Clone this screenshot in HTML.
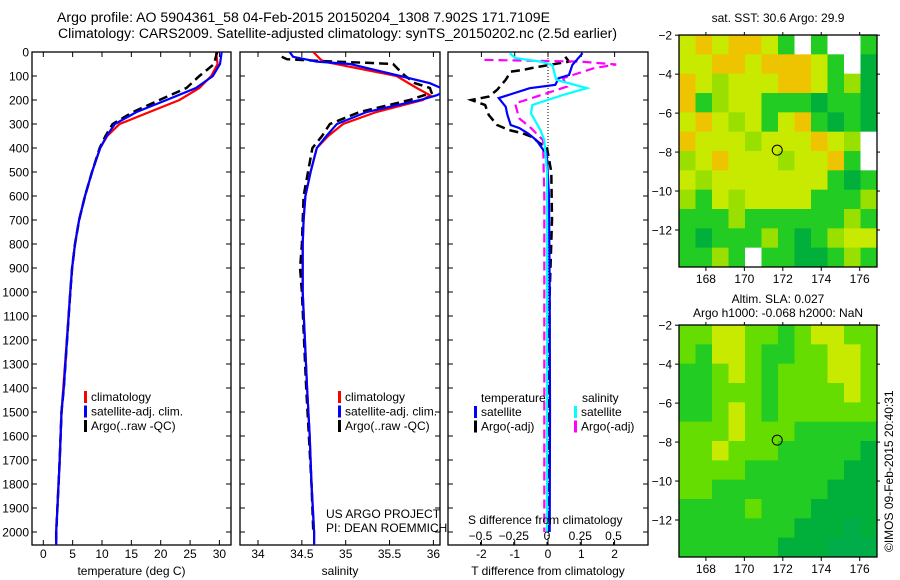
<!DOCTYPE html>
<html><head><meta charset="utf-8">
<style>
html,body{margin:0;padding:0;background:#fff;}
svg{display:block;font-family:"Liberation Sans",sans-serif;}
text{fill:#000;}
</style></head>
<body>
<svg id="fig" width="900" height="580" viewBox="0 0 900 580" xmlns="http://www.w3.org/2000/svg">
<text x="57" y="22" font-size="13.5" textLength="493" lengthAdjust="spacingAndGlyphs">Argo profile: AO 5904361_58 04-Feb-2015 20150204_1308 7.902S 171.7109E</text>
<text x="58" y="38" font-size="13.5" textLength="559" lengthAdjust="spacingAndGlyphs">Climatology: CARS2009. Satellite-adjusted climatology: synTS_20150202.nc (2.5d earlier)</text>
<g id="g1"></g>
<g id="g2"></g>
<g id="g3"></g>
<g id="m1"></g>
<g id="m2"></g>
<text x="778" y="22" font-size="12" text-anchor="middle">sat. SST: 30.6  Argo: 29.9</text>
<text x="778" y="303" font-size="12" text-anchor="middle">Altim. SLA: 0.027</text>
<text x="778" y="317" font-size="12" text-anchor="middle">Argo h1000: -0.068 h2000: NaN</text>
<text transform="translate(893,552) rotate(-90)" font-size="12">©IMOS 09-Feb-2015 20:40:31</text>
<text x="326" y="518" font-size="12">US ARGO PROJECT</text>
<text x="326" y="532" font-size="12">PI: DEAN ROEMMICH</text>
</svg>
<script>
// ---- data ----
const tempDepth=[0,50,100,150,200,250,300,350,400,500,600,700,800,900,1000,1400,1500,1700,1900,2000,2054];
const tempClim=[29.4,29.7,28.6,26.6,23.2,18.1,13,10.9,9.7,8.3,7.1,6.1,5.4,4.9,4.6,3.4,3.1,2.8,2.4,2.2,2.2];
const tempSat=[30.4,30.1,28.9,26,21,15.9,12.2,10.8,9.7,8.3,7.1,6.1,5.4,4.9,4.6,3.5,3.1,2.8,2.4,2.2,2.2];
const tempArgo=[29.6,29.1,26.6,24.4,19.8,15.3,11.8,10.6,9.6,8.3,7.1,6.1,5.4,4.9,4.6,3.5,3.1,2.8,2.4,2.2,2.2];
const salClimDepth=[0,30,40,100,150,180,200,250,300,350,400,500,600,700,800,1000,1400,1600,1800,2000,2054];
const salClim=[34.63,34.71,34.75,35.58,35.81,35.96,35.88,35.35,34.97,34.8,34.67,34.6,34.54,34.52,34.51,34.51,34.56,34.59,34.61,34.64,34.64];
const salSatDepth=[0,20,40,50,100,130,160,180,200,250,300,350,400,500,600,700,800,1000,1400,1600,1800,2000,2054];
const salSat=[34.36,34.4,34.67,35.05,35.62,35.96,36.15,36.04,35.85,35.24,34.9,34.78,34.67,34.6,34.54,34.52,34.51,34.51,34.56,34.59,34.61,34.64,34.64];
const salArgoDepth=[20,30,40,45,50,80,100,130,150,170,200,250,300,350,400,600,800,900,1000,1400,1600,1800,2000];
const salArgo=[34.27,34.33,34.86,35.24,35.54,35.62,35.68,35.79,35.96,35.98,35.73,35.16,34.82,34.73,34.62,34.52,34.5,34.48,34.5,34.55,34.58,34.61,34.63];
const dtSatDepth=[5,54,96,109,137,151,192,228,262,304,317,339,367,408,422,600,1000,1500,2000];
const dtSat=[1.04,0.73,0.63,0.32,0.22,-0.55,-1.48,-1.27,-1.22,-1.12,-0.86,-0.6,-0.35,-0.14,-0.04,0.03,0.05,0.06,0.05];
const dtArgoDepth=[20,40,61,67,75,82,116,158,186,200,221,262,304,325,339,353,380,394,500,700,1000,1500,2000];
const dtArgo=[0.52,0.63,-0.25,-0.5,-0.76,-1.12,-1.27,-1.53,-1.78,-2.3,-1.89,-1.78,-1.53,-1.17,-0.76,-0.5,-0.25,-0.04,0.1,0.12,0.05,0.02,0.0];
const dsSatDepth=[5,25,40,54,116,151,179,221,256,325,367,500,1000,2000];
const dsSat=[-0.28,-0.24,-0.05,0.04,0.07,0.3,0.12,-0.11,-0.12,-0.05,-0.02,0,0,0];
const dsArgoDepth=[33,40,52,68,109,144,186,214,276,317,367,600,1000,2000];
const dsArgo=[-0.47,0.25,0.52,0.35,0.12,0.15,-0.08,-0.24,-0.21,-0.12,-0.03,-0.02,-0.02,-0.02];
const depthTicks=[0,100,200,300,400,500,600,700,800,900,1000,1100,1200,1300,1400,1500,1600,1700,1800,1900,2000];
const tempTicks=[0,5,10,15,20,25,30];
const salTicks=[34,34.5,35,35.5,36];
const dtTicks=[-2,-1,0,1,2];
const dsTicks=[-0.5,-0.25,0,0.25,0.5];
const lonTicks=[168,170,172,174,176];
const latTicks=[-2,-4,-6,-8,-10,-12];
const argoLon=171.71, argoLat=-7.902;
const sstGrid=[
"YOYOOYGWGWWG","YYOOYOOOYGWD","OYLYYYOOYGLD","OGLYYGGGDGGD","YOYLYGYOGDGD","OYYYLYYYOYLW",
"LYOYYYLYYOGW","YLYYYYYYYGDG","LGYLYYYYGGGL","GGGLGGGGGGLG","GDGGGLGDGLYY","GGLGWGGDDGLG"];
const slaGrid=[
"AAYYAAGAYYAA","AGYYAGGAAYYA","GGAYAGAAAYYA","GGAAAGAAAAYA","GGAYAGAAAAAA","AAAYAAAGGGGG",
"AAYAAAGGGGGD","AAAAGGGGGGDD","AAGGGGGGGDDD","GGGGAGGGDDDD","GGGGGGGDDDTD","GGGGGGDDDTTT"];
// ---- scales ----
const NS="http://www.w3.org/2000/svg";
const Y0=52,Y1=545;
const yD=d=>Y0+d*0.24;
const xT=v=>43.3+v*5.87;
const xS=v=>258+(v-34)*87.7;
const xDT=v=>548+v*33.3;
const xDS=v=>547+v*133;
function mk(tag,attrs,parent){const e=document.createElementNS(NS,tag);for(const k in attrs)e.setAttribute(k,attrs[k]);parent.appendChild(e);return e;}
function line(g,xs,ds,fx,color,w,dash,name){
  const pts=xs.map((v,i)=>fx(v).toFixed(1)+","+yD(ds[i]).toFixed(1)).join(" ");
  const p=mk("polyline",{points:pts,fill:"none",stroke:color,"stroke-width":w},g);
  if(dash)p.setAttribute("stroke-dasharray",dash);
  
  
}
function panel(g,x0,x1,ticks,fx,lbls,xlabel,cid){
  const cp=mk("clipPath",{id:cid},g);mk("rect",{x:x0,y:Y0,width:x1-x0,height:Y1-Y0},cp);
  const f=mk("rect",{x:x0,y:Y0,width:x1-x0,height:Y1-Y0,fill:"none",stroke:"#000","stroke-width":1.3},g);
  
  
  depthTicks.forEach(d=>{const y=yD(d);mk("line",{x1:x0,x2:x0+5,y1:y,y2:y,stroke:"#000"},g);mk("line",{x1:x1-5,x2:x1,y1:y,y2:y,stroke:"#000"},g);});
  ticks.forEach(v=>{const x=fx(v);mk("line",{x1:x,x2:x,y1:Y1,y2:Y1-5,stroke:"#000"},g);mk("line",{x1:x,x2:x,y1:Y0,y2:Y0+5,stroke:"#000"},g);
    if(lbls){const t=mk("text",{x:x,y:558,"font-size":12,"text-anchor":"middle"},g);t.textContent=String(v);
      
      }});
  const xl=mk("text",{x:(x0+x1)/2,y:575,"font-size":12,"text-anchor":"middle"},g);xl.textContent=xlabel;
  
  
  return mk("g",{"clip-path":"url(#"+cid+")"},g);
}
function legend(g,x,y,items){
  items.forEach((it,i)=>{const yy=y+i*14.5;
    mk("rect",{x:x,y:yy-10,width:3,height:12,fill:it[0]},g);
    const t=mk("text",{x:x+7,y:yy,"font-size":12},g);t.textContent=it[1];
    
    });
}
// panel 1
const g1=document.getElementById("g1");
depthTicks.forEach(d=>{const t=mk("text",{x:29,y:yD(d)+4.5,"font-size":12,"text-anchor":"end"},g1);t.textContent=d;
  
  });
const c1=panel(g1,32,231,tempTicks,xT,true,"temperature (deg C)","cp1");
line(c1,tempClim,tempDepth,xT,"#f00",2.2,null,"temp-climatology-line");
line(c1,tempArgo,tempDepth,xT,"#000",2.5,"9,5","temp-argo-line");
line(c1,tempSat,tempDepth,xT,"#00f",2.2,null,"temp-satellite-line");
legend(g1,84,401,[["#f00","climatology"],["#00f","satellite-adj. clim."],["#000","Argo(..raw -QC)"]]);
// panel 2
const g2=document.getElementById("g2");
const c2=panel(g2,240,440,salTicks,xS,true,"salinity","cp2");
line(c2,salClim,salClimDepth,xS,"#f00",2.2,null,"sal-climatology-line");
line(c2,salArgo,salArgoDepth,xS,"#000",2.5,"9,5","sal-argo-line");
line(c2,salSat,salSatDepth,xS,"#00f",2.2,null,"sal-satellite-line");
legend(g2,338,401,[["#f00","climatology"],["#00f","satellite-adj. clim."],["#000","Argo(..raw -QC)"]]);
// panel 3
const g3=document.getElementById("g3");
const c3=panel(g3,448,648,dtTicks,xDT,true,"T difference from climatology","cp3");
dsTicks.forEach(v=>{const x=xDS(v);mk("line",{x1:x,x2:x,y1:Y1,y2:Y1-3,stroke:"#000"},g3);
  const t=mk("text",{x:x,y:540,"font-size":12,"text-anchor":"middle"},g3);t.textContent=String(v).replace("-","−");
  
  });
const st=mk("text",{x:468,y:524,"font-size":12},g3);st.textContent="S difference from climatology";


mk("line",{x1:548,x2:548,y1:Y0,y2:Y1,stroke:"#000","stroke-dasharray":"1,2"},c3);
line(c3,dtArgo,dtArgoDepth,xDT,"#000",2.5,"9,5","dt-argo-line");
line(c3,dsArgo,dsArgoDepth,xDS,"#f0f",2.2,"9,5","ds-argo-line");
line(c3,dtSat,dtSatDepth,xDT,"#00f",2.2,null,"dt-satellite-line");
line(c3,dsSat,dsSatDepth,xDS,"#0ff",2.2,null,"ds-satellite-line");
const tt=mk("text",{x:481,y:402,"font-size":12},g3);tt.textContent="temperature";


const sh=mk("text",{x:582,y:402,"font-size":12},g3);sh.textContent="salinity";


legend(g3,474,416,[["#00f","satellite"],["#000","Argo(-adj)"]]);
legend(g3,574,416,[["#0ff","satellite"],["#f0f","Argo(-adj)"]]);
// maps
const LON0=166.6,LON1=176.9,LAT0=-1.99,LAT1=-13.9,MX0=679,MX1=877;
const colors={Y:"#c8ea00",O:"#eec400",L:"#99e000",G:"#22cc22",D:"#00b03a",W:"#ffffff",A:"#66dd00",T:"#00ad48"};
function map(id,top,grid,labels){
  const g=document.getElementById(id);const H=232;
  const mx=v=>MX0+(v-LON0)/(LON1-LON0)*(MX1-MX0);
  const my=v=>top+(v-LAT0)/(LAT1-LAT0)*H;
  const rows=grid.length,cols=grid[0].length,cw=(MX1-MX0)/cols,ch=H/rows;
  grid.forEach((r,i)=>{for(let j=0;j<cols;j++){
    const c=mk("rect",{x:MX0+j*cw,y:top+i*ch,width:cw+0.5,height:ch+0.5,fill:colors[r[j]]},g);
    
    }});
  const fr=mk("rect",{x:MX0,y:top,width:MX1-MX0,height:H,fill:"none",stroke:"#000","stroke-width":1.3},g);
  
  
  lonTicks.forEach(v=>{const x=mx(v);mk("line",{x1:x,x2:x,y1:top+H,y2:top+H+4,stroke:"#000"},g);mk("line",{x1:x,x2:x,y1:top,y2:top-3,stroke:"#000"},g);
    const t=mk("text",{x:x,y:top+H+16,"font-size":12,"text-anchor":"middle"},g);t.textContent=v;
    
    });
  latTicks.forEach(v=>{const y=my(v);mk("line",{x1:MX0-4,x2:MX0,y1:y,y2:y,stroke:"#000"},g);mk("line",{x1:MX1,x2:MX1+3,y1:y,y2:y,stroke:"#000"},g);
    const t=mk("text",{x:MX0-7,y:y+4.5,"font-size":12,"text-anchor":"end"},g);t.textContent=String(v).replace("-","−");
    
    });
  const c=mk("circle",{cx:mx(argoLon),cy:my(argoLat),r:5,fill:"none",stroke:"#000","stroke-width":1},g);
  
  
}
map("m1",35,sstGrid);
map("m2",325,slaGrid);
</script>
</body></html>
